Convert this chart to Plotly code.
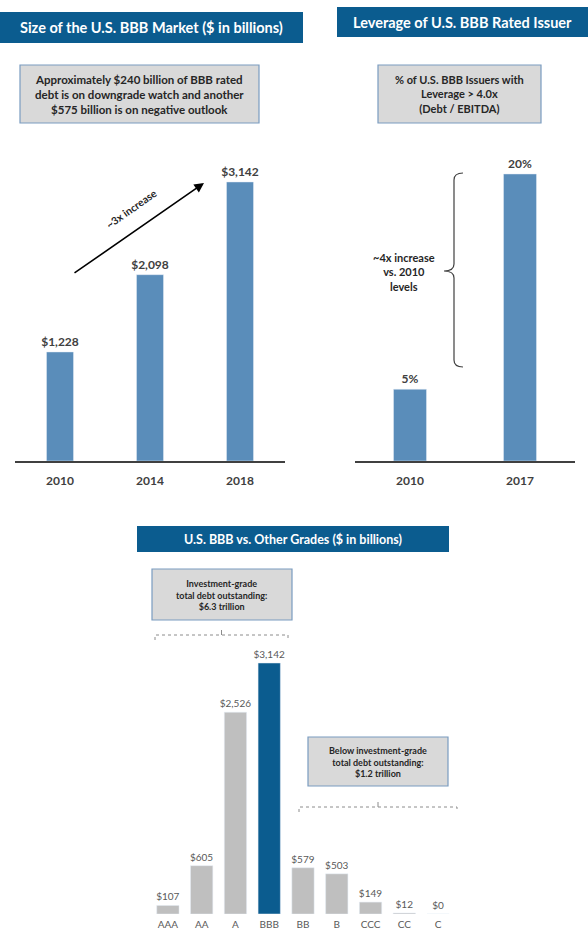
import plotly.graph_objects as go

W, H = 588, 932

# data
market_years = ['2010', '2014', '2018']
market_size = [1228, 2098, 3142]
market_labels = ['$1,228', '$2,098', '$3,142']

lev_years = ['2010', '2017']
lev_pct = [5, 20]
lev_labels = ['5%', '20%']

grades = ['AAA', 'AA', 'A', 'BBB', 'BB', 'B', 'CCC', 'CC', 'C']
grade_debt = [107, 605, 2526, 3142, 579, 503, 149, 12, 0]
grade_labels = ['$107', '$605', '$2,526', '$3,142', '$579', '$503', '$149', '$12', '$0']

HEADER = '#0B5C8F'
LIGHT_BLUE = '#5A8DBA'
GRAY_BAR = '#BFBFBF'
FONT = 'Lato'


def px(x):
  return x / W


def py(y):
  return 1 - y / H


def path(points):
  # points in pixels -> svg path in paper coords
  out = []
  for cmd, *xy in points:
    if cmd == 'Q':
      out.append(f"Q {px(xy[0])},{py(xy[1])} {px(xy[2])},{py(xy[3])}")
    else:
      out.append(f"{cmd} {px(xy[0])},{py(xy[1])}")
  return ' '.join(out)


def label(x, y, text, **kw):
  d = dict(xref='paper', yref='paper', x=px(x), y=py(y), text=text,
           showarrow=False, xanchor='center', yanchor='middle')
  d.update(kw)
  return d


fig = go.Figure()

fig.add_trace(go.Bar(
  x=market_years, y=market_size, text=market_labels, textposition='outside',
  marker=dict(color=LIGHT_BLUE), width=0.3, cliponaxis=False, constraintext='none',
  textfont=dict(size=12, color='#404040', family=FONT, weight='bold'),
  hoverinfo='skip', xaxis='x', yaxis='y'
))
fig.add_trace(go.Bar(
  x=lev_years, y=lev_pct, text=lev_labels, textposition='outside',
  marker=dict(color=LIGHT_BLUE), width=0.3, cliponaxis=False, constraintext='none',
  textfont=dict(size=12, color='#404040', family=FONT, weight='bold'),
  hoverinfo='skip', xaxis='x2', yaxis='y2'
))
fig.add_trace(go.Bar(
  x=grades, y=grade_debt, text=grade_labels, textposition='outside',
  marker=dict(color=[HEADER if g == 'BBB' else GRAY_BAR for g in grades]),
  width=0.66, cliponaxis=False, constraintext='none',
  textfont=dict(size=10, color='#595959', family=FONT),
  hoverinfo='skip', xaxis='x3', yaxis='y3'
))

axis_common = dict(showgrid=False, zeroline=False, fixedrange=True)

fig.update_layout(
  width=W, height=H,
  margin=dict(l=0, r=0, t=0, b=0),
  paper_bgcolor='white', plot_bgcolor='white',
  showlegend=False,
  font=dict(family=FONT),
  xaxis=dict(domain=[px(15), px(285)], range=[-0.5, 2.5], type='category',
             showline=True, linecolor='#404040', linewidth=1.5,
             tickfont=dict(size=12, color='#404040', weight='bold'),
             ticklabelstandoff=8, **axis_common),
  yaxis=dict(domain=[py(461), py(150)], range=[0, 3502], visible=False, **axis_common),
  xaxis2=dict(domain=[px(355), px(575)], range=[-0.5, 1.5], type='category',
              showline=True, linecolor='#404040', linewidth=1.5,
              tickfont=dict(size=12, color='#404040', weight='bold'),
              ticklabelstandoff=8, anchor='y2', **axis_common),
  yaxis2=dict(domain=[py(461), py(150)], range=[0, 21.67], visible=False,
              anchor='x2', **axis_common),
  xaxis3=dict(domain=[px(151), px(455)], range=[-0.5, 8.5], type='category',
              showline=False, tickfont=dict(size=10, color='#595959'),
              ticklabelstandoff=3, anchor='y3', **axis_common),
  yaxis3=dict(domain=[py(914), py(640)], range=[0, 3430], visible=False,
              anchor='x3', **axis_common),
)

shapes = []
annotations = []

# header bars
for x0, y0, x1, y1, title, size in [
  (0, 12, 303, 43, 'Size of the U.S. BBB Market ($ in billions)', 14.5),
  (337, 7, 588, 37, 'Leverage of U.S. BBB Rated Issuer', 14.5),
  (137, 526, 449, 552, 'U.S. BBB vs. Other Grades ($ in billions)', 12.5),
]:
  shapes.append(dict(type='rect', xref='paper', yref='paper',
                     x0=px(x0), x1=px(x1), y0=py(y1), y1=py(y0),
                     fillcolor=HEADER, line=dict(width=0), layer='below'))
  annotations.append(label((x0 + x1) / 2, (y0 + y1) / 2, title,
                           font=dict(size=size, color='white', weight='bold')))

# gray call-out boxes
for x0, y0, x1, y1, text, size in [
  (20, 65, 259, 123, 'Approximately $240 billion of BBB rated<br>debt is on downgrade watch and another<br>$575 billion is on negative outlook', 11.5),
  (378, 65, 541, 123, '% of U.S. BBB Issuers with<br>Leverage > 4.0x<br>(Debt / EBITDA)', 11),
  (152, 569, 292, 620, 'Investment-grade<br>total debt outstanding:<br>$6.3 trillion', 9),
  (308, 737, 448, 786, 'Below investment-grade<br>total debt outstanding:<br>$1.2 trillion', 9),
]:
  shapes.append(dict(type='rect', xref='paper', yref='paper',
                     x0=px(x0), x1=px(x1), y0=py(y1), y1=py(y0),
                     fillcolor='#D9D9D9', line=dict(color='#7A9CC0', width=1.2)))
  annotations.append(label((x0 + x1) / 2, (y0 + y1) / 2, text,
                           font=dict(size=size, color='#262626', weight='bold')))

# ~3x arrow
annotations.append(dict(xref='paper', yref='paper', x=px(204), y=py(183),
                        ax=73 - 204, ay=274 - 183, axref='pixel', ayref='pixel',
                        showarrow=True, arrowhead=2, arrowsize=1.2, arrowwidth=1.6,
                        arrowcolor='black', text=''))
annotations.append(label(131, 209, '~3x increase', textangle=-35,
                         font=dict(size=10.5, color='#262626', weight='bold')))

# curly bracket for leverage
shapes.append(dict(type='path', xref='paper', yref='paper', line=dict(color='#404040', width=1.2),
                   path=path([('M', 463, 173), ('Q', 454, 173, 454, 180), ('L', 454, 264),
                              ('Q', 454, 271, 444, 271), ('Q', 454, 271, 454, 278),
                              ('L', 454, 360), ('Q', 454, 367, 463, 367)])))
annotations.append(label(404, 272, '~4x increase<br>vs. 2010<br>levels',
                         font=dict(size=11, color='#262626', weight='bold')))

# dotted brackets for grade groups
for x0, x1, yb in [(155, 288, 635), (299, 457, 807)]:
  xm = (x0 + x1) / 2
  shapes.append(dict(type='path', xref='paper', yref='paper',
                     line=dict(color='#8C8C8C', width=1, dash='dot'),
                     path=path([('M', x0, yb + 5), ('L', x0, yb), ('L', x1, yb), ('L', x1, yb + 5)])))
  shapes.append(dict(type='line', xref='paper', yref='paper',
                     x0=px(xm), x1=px(xm), y0=py(yb), y1=py(yb - 5),
                     line=dict(color='#8C8C8C', width=1)))

fig.update_layout(shapes=shapes, annotations=annotations)

# the page body has a default 8px margin; drop it so the figure fills the window
fig.write_html("out.html", config=dict(displayModeBar=False, staticPlot=True),
               post_script="document.body.style.margin='0px';")
